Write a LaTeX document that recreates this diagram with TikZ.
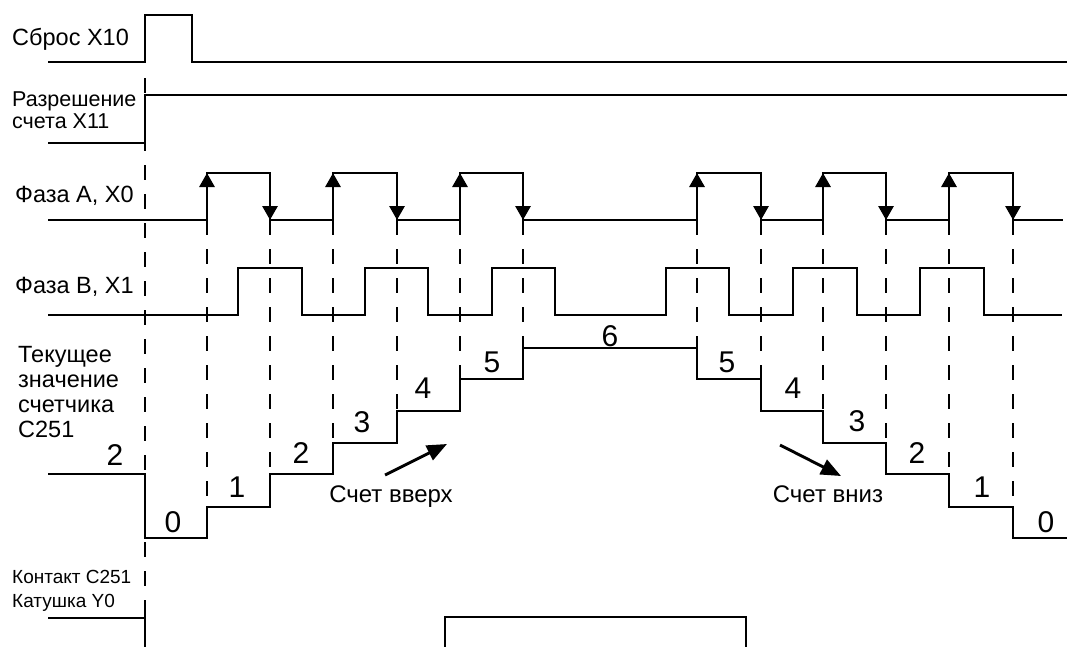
\documentclass[tikz,border=0pt]{standalone}
\usepackage{fontspec}
\setmainfont{Liberation Sans}
\usetikzlibrary{arrows.meta}
\begin{document}
\begin{tikzpicture}[x=1pt,y=-1pt,
  sig/.style={line width=2.9pt, line join=miter, line cap=butt},
  guide/.style={line width=2.6pt, dash pattern=on 15pt off 14pt},
  lbl/.style={inner sep=0pt, anchor=base west, font=\fontsize{23.5}{26}\selectfont},
  mlbl/.style={inner sep=0pt, anchor=base west, font=\fontsize{21.5}{24}\selectfont},
  slbl/.style={inner sep=0pt, anchor=base west, font=\fontsize{19}{22}\selectfont},
  num/.style={inner sep=0pt, anchor=base, font=\fontsize{30}{32}\selectfont},
  cnt/.style={inner sep=0pt, anchor=base, font=\fontsize{24}{26}\selectfont},
  edgetip/.style={sig, -{Triangle[length=14pt,width=15pt]}},
  bigtip/.style={sig, -{Triangle[length=20pt,width=16pt]}}
]
\useasboundingbox (0,0) rectangle (1067,646);

% dashed guides
\draw[guide] (145,78) -- (145,600);
\foreach \x/\y in {207/507,270/474,333/443,397/411,460/379,523/348,
                   697/348,761/379,823/411,886/443,949/474,1013/507}
  \draw[guide] (\x,220) -- (\x,\y);

% Reset X10
\draw[sig] (48,62) -- (145,62) -- (145,15) -- (192,15) -- (192,62) -- (1067,62);
% Enable X11
\draw[sig] (48,143) -- (145,143) -- (145,95) -- (1067,95);
% Phase A
\draw[sig] (48,220) -- (207,220) -- (207,173) -- (270,173) -- (270,220)
  -- (333,220) -- (333,173) -- (397,173) -- (397,220)
  -- (460,220) -- (460,173) -- (523,173) -- (523,220)
  -- (697,220) -- (697,173) -- (761,173) -- (761,220)
  -- (823,220) -- (823,173) -- (886,173) -- (886,220)
  -- (949,220) -- (949,173) -- (1013,173) -- (1013,220) -- (1063,220);
\foreach \x in {207,333,460,697,823,949}
  \draw[edgetip] (\x,205) -- (\x,173);
\foreach \x in {270,397,523,761,886,1013}
  \draw[edgetip] (\x,188) -- (\x,220);
% Phase B
\draw[sig] (48,315) -- (238,315) -- (238,268) -- (302,268) -- (302,315)
  -- (365,315) -- (365,268) -- (428,268) -- (428,315)
  -- (492,315) -- (492,268) -- (555,268) -- (555,315)
  -- (666,315) -- (666,268) -- (729,268) -- (729,315)
  -- (793,315) -- (793,268) -- (857,268) -- (857,315)
  -- (920,315) -- (920,268) -- (984,268) -- (984,315) -- (1062,315);
% Counter
\draw[sig] (48,474) -- (145,474) -- (145,538) -- (207,538) -- (207,507)
  -- (270,507) -- (270,474) -- (333,474) -- (333,443) -- (397,443)
  -- (397,411) -- (460,411) -- (460,379) -- (523,379) -- (523,348)
  -- (697,348) -- (697,379) -- (761,379) -- (761,411) -- (823,411)
  -- (823,443) -- (886,443) -- (886,474) -- (949,474) -- (949,507)
  -- (1013,507) -- (1013,538) -- (1067,538);
% Contact / Y0
\draw[sig] (48,618) -- (145,618);
\draw[sig] (145,600) -- (145,650);
\draw[sig] (445,650) -- (445,617) -- (746,617) -- (746,650);

% labels
\node[lbl] (l1) at (12,45) {Сброс X10};
\node[mlbl] (l2a) at (12,106) {Разрешение};
\node[mlbl] (l2b) at (12,128) {счета X11};
\node[lbl] (l3) at (15,202) {Фаза А, X0};
\node[lbl] (l4) at (15,293) {Фаза В, X1};
\node[lbl] (l5a) at (18,362) {Текущее};
\node[lbl] (l5b) at (18,387) {значение};
\node[lbl] (l5c) at (18,412) {счетчика};
\node[lbl] (l5d) at (18,437) {С251};
\node[slbl] (l6a) at (12,583) {Контакт С251};
\node[slbl] (l6b) at (12,607) {Катушка Y0};

% counter values
\node[num] (n0) at (115,465) {2};
\node[num] (n1) at (173,532) {0};
\node[num] (n2) at (237,497) {1};
\node[num] (n3) at (301,463) {2};
\node[num] (n4) at (362,432) {3};
\node[num] (n5) at (423,398) {4};
\node[num] (n6) at (492,372) {5};
\node[num] (n7) at (610,346) {6};
\node[num] (n8) at (727,372) {5};
\node[num] (n9) at (793,398) {4};
\node[num] (n10) at (857,431) {3};
\node[num] (n11) at (917,463) {2};
\node[num] (n12) at (982,497) {1};
\node[num] (n13) at (1046,532) {0};

% count direction
\coordinate (u1) at (385,475);
\coordinate (u2) at (447,444);
\draw[bigtip] (u1) -- (u2);
\node[cnt] (up) at (391,502) {Счет вверх};
\coordinate (d1) at (780,445);
\coordinate (d2) at (841,476);
\draw[bigtip] (d1) -- (d2);
\node[cnt] (dn) at (828,502) {Счет вниз};
\end{tikzpicture}
\end{document}
